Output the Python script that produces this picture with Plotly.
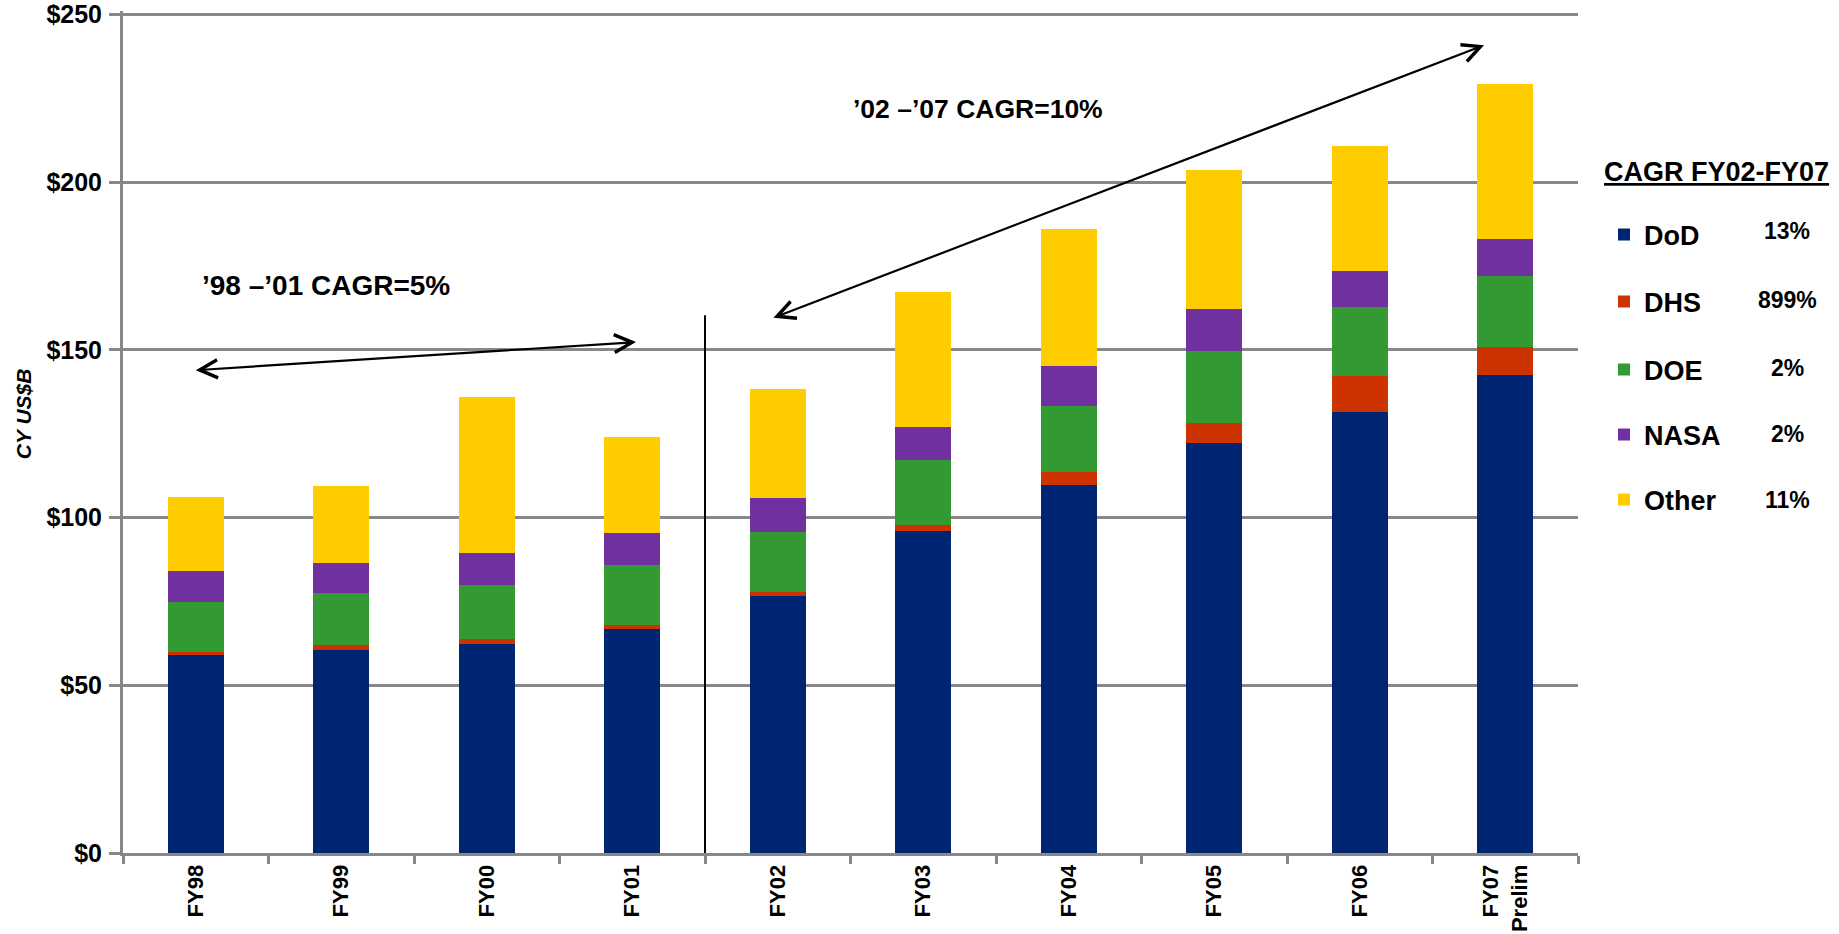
import plotly.graph_objects as go

# ---------------- data ----------------
categories = ["FY98", "FY99", "FY00", "FY01", "FY02", "FY03", "FY04", "FY05", "FY06", "FY07<br>Prelim"]
dod = [59.0, 60.5, 62.3, 66.7, 76.6, 95.9, 109.7, 122.2, 131.4, 142.4]
dhs = [1.0, 1.5, 1.5, 1.2, 1.2, 1.8, 3.8, 5.9, 10.7, 8.4]
doe = [14.8, 15.5, 16.1, 17.9, 17.9, 19.4, 19.8, 21.5, 20.6, 21.1]
nasa = [9.2, 8.9, 9.5, 9.6, 10.1, 9.8, 11.9, 12.5, 10.7, 11.1]
other = [22.1, 23.0, 46.5, 28.6, 32.5, 40.3, 40.8, 41.4, 37.3, 46.1]

series_names = ["DoD", "DHS", "DOE", "NASA", "Other"]
series_values = [dod, dhs, doe, nasa, other]
series_colors = ["#002673", "#CC3300", "#339933", "#7030A0", "#FFCC00"]
cagr_labels = ["13%", "899%", "2%", "2%", "11%"]

y_tick_values = [0, 50, 100, 150, 200, 250]
y_tick_labels = ["$0", "$50", "$100", "$150", "$200", "$250"]

FONT = "Liberation Sans, Arial, Helvetica, sans-serif"
W, H = 1839, 934
Y_MAX = 251
L, R, B = 123, 261, 81
PX_PER_UNIT = (853 - 14) / 250.0
T = 14 - (Y_MAX - 250) * PX_PER_UNIT

fig = go.Figure()
legend_ids = ["legend", "legend2", "legend3", "legend4", "legend5"]
for name, vals, color, lg in zip(series_names, series_values, series_colors, legend_ids):
    fig.add_trace(go.Bar(
        x=categories, y=vals, name=name,
        marker=dict(color=color, line=dict(width=0)),
        legend=lg, showlegend=True,
    ))

# legend item vertical centres (pixels from top)
legend_y_px = [235, 302, 370, 435, 500]
pct_y_px = [231, 300, 368, 434, 500]

layout_legends = {}
for lg, ypx in zip(legend_ids, legend_y_px):
    layout_legends[lg] = dict(
        x=1604 / W, y=1 - ypx / H, xref="container", yref="container",
        xanchor="left", yanchor="middle",
        font=dict(family=FONT, size=27, color="black", weight="bold"),
        bgcolor="rgba(0,0,0,0)", borderwidth=0,
    )

pw = W - L - R
ph = H - T - B

def px_to_paper_x(px):
    return (px - L) / pw

def px_to_paper_y(py):
    return (H - B - py) / ph

annotations = []
# legend title
annotations.append(dict(
    x=px_to_paper_x(1716), y=px_to_paper_y(172), xref="paper", yref="paper",
    text="<u>CAGR FY02-FY07</u>", showarrow=False,
    font=dict(family=FONT, size=27, color="black", weight="bold"),
    xanchor="center", yanchor="middle",
))
for lab, ypx in zip(cagr_labels, pct_y_px):
    annotations.append(dict(
        x=px_to_paper_x(1787), y=px_to_paper_y(ypx), xref="paper", yref="paper",
        text=lab, showarrow=False,
        font=dict(family=FONT, size=23, color="black", weight="bold"),
        xanchor="center", yanchor="middle",
    ))
# y axis title
annotations.append(dict(
    x=px_to_paper_x(23), y=px_to_paper_y(413), xref="paper", yref="paper",
    text="<i>CY US$B</i>", showarrow=False, textangle=-90,
    font=dict(family=FONT, size=21, color="black", weight="bold"),
    xanchor="center", yanchor="middle",
))
# CAGR texts
annotations.append(dict(
    x=0.895, y=169.3, xref="x", yref="y", text="’98 –’01 CAGR=5%", showarrow=False,
    font=dict(family=FONT, size=28, color="black", weight="bold"),
    xanchor="center", yanchor="middle",
))
annotations.append(dict(
    x=5.376, y=221.7, xref="x", yref="y", text="’02 –’07 CAGR=10%", showarrow=False,
    font=dict(family=FONT, size=26.5, color="black", weight="bold"),
    xanchor="center", yanchor="middle",
))
# arrows (double-headed)
for (x0, y0, x1, y1) in [(-0.01, 143.9, 3.026, 152.3), (3.96, 159.4, 8.854, 240.8)]:
    annotations.append(dict(
        x=x1, y=y1, ax=x0, ay=y0, xref="x", yref="y", axref="x", ayref="y",
        text="", showarrow=True, arrowhead=5, startarrowhead=5,
        arrowside="end+start", arrowsize=1.6, startarrowsize=1.6,
        arrowwidth=2.2, arrowcolor="black",
    ))

shapes = [dict(type="line", xref="x", yref="y", x0=3.5, x1=3.5, y0=0, y1=160.3,
               line=dict(color="black", width=2), layer="above")]

fig.update_layout(
    width=W, height=H, showlegend=True,
    margin=dict(l=L, r=R, t=T, b=B, pad=0, autoexpand=False),
    paper_bgcolor="white", plot_bgcolor="white",
    barmode="stack", bargap=0.612,
    font=dict(family=FONT, color="black"),
    annotations=annotations, shapes=shapes,
    **layout_legends,
)
fig.update_xaxes(
    type="category", tickangle=-90, tickson="boundaries",
    ticks="outside", ticklen=8, tickwidth=3, tickcolor="#888888",
    showline=True, linecolor="#888888", linewidth=3,
    showgrid=False, automargin=False,
    tickfont=dict(family=FONT, size=22, color="black", weight="bold"),
)
fig.update_yaxes(
    range=[0, Y_MAX], tickvals=y_tick_values, ticktext=y_tick_labels,
    ticks="outside", ticklen=11, tickwidth=3, tickcolor="#888888",
    showline=True, linecolor="#888888", linewidth=3,
    showgrid=True, gridcolor="#888888", gridwidth=3, zeroline=False,
    automargin=False,
    tickfont=dict(family=FONT, size=25, color="black", weight="bold"),
    ticklabelstandoff=2,
)

fig.write_html(
    "out.html",
    config={"displayModeBar": False},
    post_script="document.body.style.margin='0';document.body.style.overflow='hidden';",
)
